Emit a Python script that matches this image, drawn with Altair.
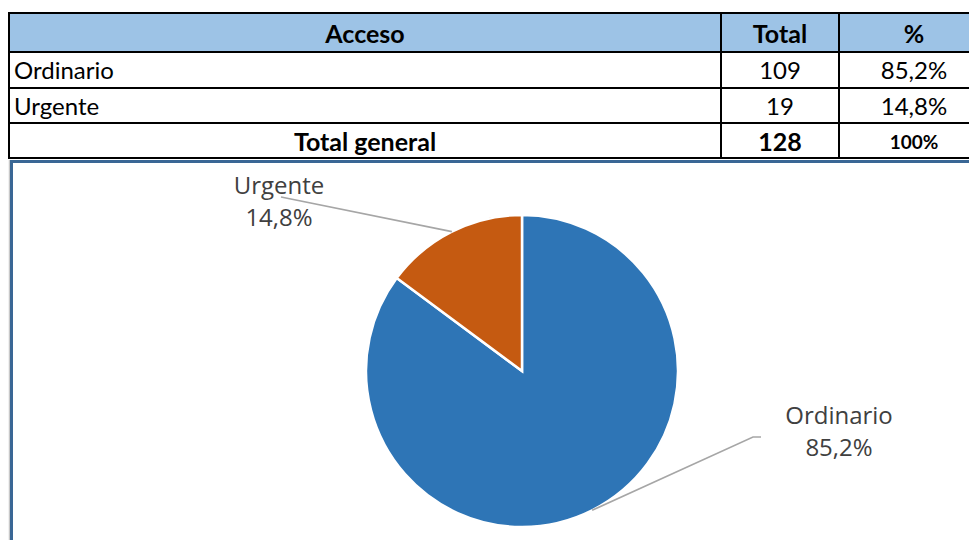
import math
import altair as alt
import pandas as pd

# ---------------- data ----------------
categories = ["Ordinario", "Urgente"]
totals = [109, 19]
header_labels = ["Acceso", "Total", "%"]
total_row_label = "Total general"
colors = ["#2E75B6", "#C55A11"]

grand_total = sum(totals)


def pct_text(v):
    return f"{v / grand_total * 100:.1f}%".replace(".", ",")


pct_labels = [pct_text(v) for v in totals]
total_pct = f"{round(grand_total / grand_total * 100)}%"

# ---------------- layout (pixels, chart origin = page (8, 8)) ----------------
W, H = 961, 532
TOP = 5
col_w = [712, 118, 150]          # last column runs past the visible edge
row_h = [39, 36, 35, 35]
PANEL_TOP = TOP + sum(row_h) + 2
CX, CY, R = 513, 363, 156
FONT_T = "Lato"
FONT_C = "Open Sans"

col_x = [0]
for w in col_w:
    col_x.append(col_x[-1] + w)
row_y = [TOP]
for h in row_h:
    row_y.append(row_y[-1] + h)

# table cells
cells = []


def add_cell(r, c, text, style, fill="white"):
    x0, x1 = col_x[c], col_x[c + 1]
    y0, y1 = row_y[r], row_y[r + 1]
    tx = x0 + 5 if style == "left" else (x0 + x1) / 2
    cells.append(dict(x0=x0, x1=min(x1, W), y0=y0, y1=y1, tx=tx,
                      ty=(y0 + y1) / 2 + 2, text=text, style=style, fill=fill))


for c, h in enumerate(header_labels):
    add_cell(0, c, h, "bold", "#9DC3E6")
for i, cat in enumerate(categories):
    add_cell(1 + i, 0, cat, "left")
    add_cell(1 + i, 1, str(totals[i]), "center")
    add_cell(1 + i, 2, pct_labels[i], "center")
add_cell(3, 0, total_row_label, "bold")
add_cell(3, 1, str(grand_total), "bold")
add_cell(3, 2, total_pct, "boldsmall")
cells_df = pd.DataFrame(cells)

base_t = alt.Chart(cells_df)
rects = base_t.mark_rect(stroke="black", strokeWidth=2).encode(
    x=alt.X("x0:Q", scale=None, axis=None), x2="x1:Q",
    y=alt.Y("y0:Q", scale=None, axis=None), y2="y1:Q",
    fill=alt.Fill("fill:N", scale=None),
)


def text_layer(style, size, weight, align):
    return base_t.transform_filter(alt.datum.style == style).mark_text(
        font=FONT_T, fontSize=size, fontWeight=weight, align=align,
        baseline="middle", color="black",
    ).encode(
        x=alt.X("tx:Q", scale=None, axis=None),
        y=alt.Y("ty:Q", scale=None, axis=None),
        text="text:N",
    )


# ---------------- pie ----------------
pie_df = pd.DataFrame({"cat": categories, "total": totals,
                       "ord": list(range(len(categories)))})

pie = alt.Chart(pie_df).mark_arc(radius=R, stroke="white", strokeWidth=2.5).encode(
    theta=alt.Theta("total:Q", stack=True),
    color=alt.Color("cat:N", scale=alt.Scale(domain=categories, range=colors), legend=None),
    order=alt.Order("ord:Q"),
    x=alt.value(CX), y=alt.value(CY),
)

# label placement (relative to pie centre) and leader-line elbows
label_offset = {"Urgente": (-243, -168), "Ordinario": (317, 62)}
line_tail = {"Urgente": [(-241, -174)], "Ordinario": [(231, 66), (239, 66)]}

line_rows, label_rows = [], []
cum = 0
for cat, v, p in zip(categories, totals, pct_labels):
    mid = (cum + v / 2) / grand_total * 2 * math.pi
    cum += v
    pts = [(R * math.sin(mid), -R * math.cos(mid))] + line_tail[cat]
    for k, (dx, dy) in enumerate(pts):
        line_rows.append(dict(cat=cat, seq=k, px=CX + dx, py=CY + dy))
    ox, oy = label_offset[cat]
    label_rows.append(dict(cat=cat, pct=p, lx=CX + ox, ly=CY + oy))

lines = alt.Chart(pd.DataFrame(line_rows)).mark_line(
    color="#A6A6A6", strokeWidth=1.6
).encode(
    x=alt.X("px:Q", scale=None, axis=None),
    y=alt.Y("py:Q", scale=None, axis=None),
    detail="cat:N", order="seq:Q",
)

lab_base = alt.Chart(pd.DataFrame(label_rows))
lab_name = lab_base.mark_text(font=FONT_C, fontSize=24, color="#404040",
                              align="center", baseline="middle", dy=-16).encode(
    x=alt.X("lx:Q", scale=None, axis=None),
    y=alt.Y("ly:Q", scale=None, axis=None),
    text="cat:N",
)
lab_pct = lab_base.mark_text(font=FONT_C, fontSize=24, color="#404040",
                             align="center", baseline="middle", dy=16).encode(
    x=alt.X("lx:Q", scale=None, axis=None),
    y=alt.Y("ly:Q", scale=None, axis=None),
    text="pct:N",
)

border_src = alt.Chart(pd.DataFrame({"k": [0]}))
top_border = border_src.mark_rule(color="#3A6795", strokeWidth=3).encode(
    x=alt.value(2), x2=alt.value(W), y=alt.value(PANEL_TOP + 1.5))
left_gray = border_src.mark_rule(color="#C8C8C8", strokeWidth=1.5).encode(
    x=alt.value(0.5), y=alt.value(PANEL_TOP), y2=alt.value(H))
left_border = border_src.mark_rule(color="#3A6795", strokeWidth=3).encode(
    x=alt.value(2.5), y=alt.value(PANEL_TOP), y2=alt.value(H))

chart = alt.layer(
    rects,
    text_layer("bold", 25, "bold", "center"),
    text_layer("left", 24, "normal", "left"),
    text_layer("center", 24, "normal", "center"),
    text_layer("boldsmall", 19, "bold", "center"),
    pie, lines, lab_name, lab_pct, top_border, left_gray, left_border,
).properties(
    width=W, height=H,
    autosize=alt.AutoSizeParams(type="fit", contains="padding"),
    padding=0,
    background="white",
).configure_view(stroke=None)

chart.save("out.html", embed_options={"renderer": "svg", "actions": False})
